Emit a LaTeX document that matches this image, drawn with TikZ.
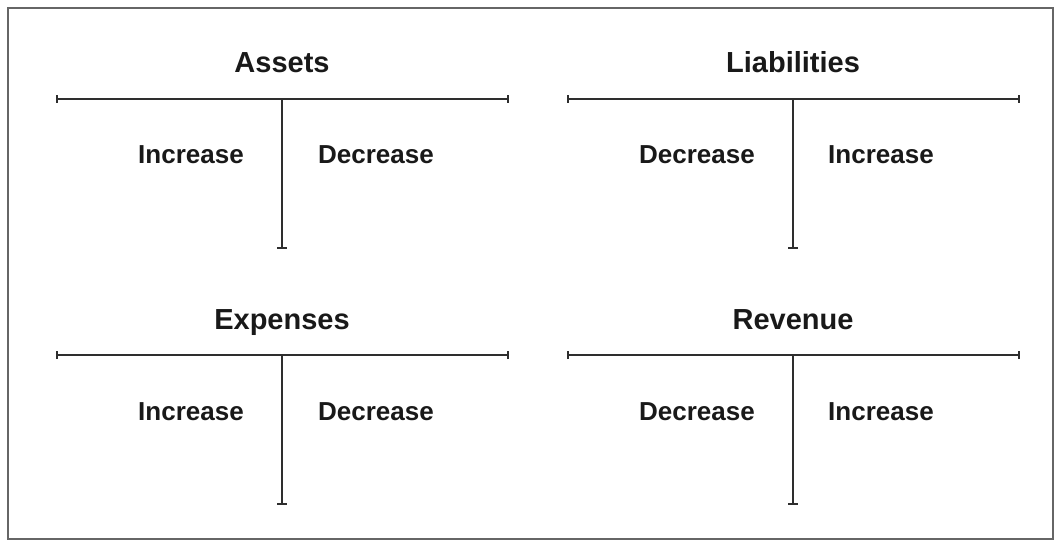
\documentclass[tikz,border=0pt]{standalone}
\usepackage{fontspec}
\setmainfont{Liberation Sans}
\begin{document}
\begin{tikzpicture}[x=1pt,y=-1pt,
  tline/.style={draw=black!82,line width=2.8pt},
  tick/.style={draw=black!82,line width=1.5pt},
  ttl/.style={font=\fontsize{29}{32}\selectfont\bfseries,text=black!90,inner sep=0pt},
  lbl/.style={font=\fontsize{26}{30}\selectfont\bfseries,text=black!90,inner sep=0pt}]
\path[use as bounding box] (0,0) rectangle (1055,540);
\draw[draw=black!60,line width=2pt] (8,8) rectangle (1053,539);
% generic T-account
\newcommand{\taccount}[9]{%
  % #1 name, #2 center x, #3 top y, #4 title, #5 left label, #6 right label, #7 bottom y, #8 left offset, #9 right offset
  \coordinate (#1L) at (#2-225,#3);
  \coordinate (#1R) at (#2+226,#3);
  \coordinate (#1M) at (#2,#3);
  \coordinate (#1B) at (#2,#7);
  \node[ttl,anchor=base] (#1t) at (#2,#3-26) {#4};
  \node[lbl,anchor=base] (#1l) at (#2+#8,#3+65) {#5};
  \node[lbl,anchor=base] (#1r) at (#2+#9,#3+65) {#6};
  \draw[tline] (#1L) -- (#1R);
  \draw[tline] (#1M) -- (#1B);
  \draw[tick] ([yshift=-4]#1L) -- ([yshift=4]#1L);
  \draw[tick] ([yshift=-4]#1R) -- ([yshift=4]#1R);
  \draw[tick] ([xshift=-5]#1B) -- ([xshift=5]#1B);
}
\taccount{a}{282}{99}{Assets}{Increase}{Decrease}{248}{-91}{94}
\taccount{l}{793}{99}{Liabilities}{Decrease}{Increase}{248}{-96}{88}
\taccount{e}{282}{355}{Expenses}{Increase}{Decrease}{504}{-91}{94}
\taccount{r}{793}{355}{Revenue}{Decrease}{Increase}{504}{-96}{88}
\end{tikzpicture}
\end{document}
